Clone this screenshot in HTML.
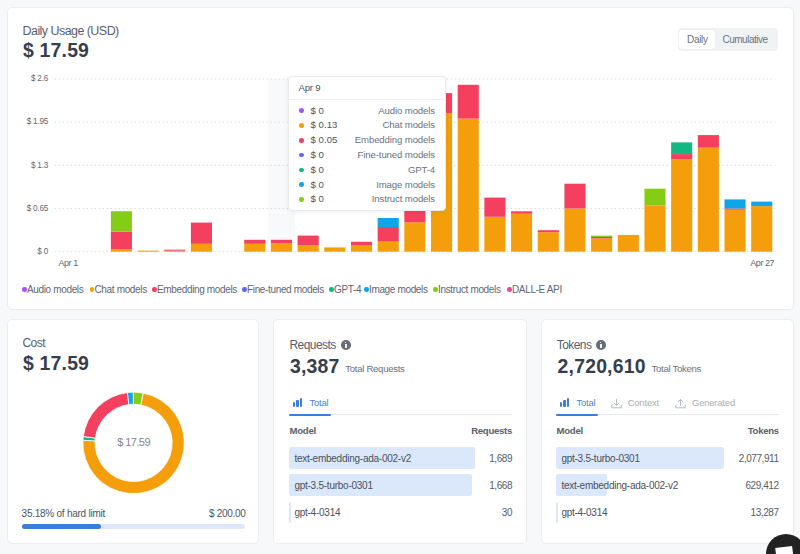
<!DOCTYPE html>
<html><head><meta charset="utf-8">
<style>
*{margin:0;padding:0;box-sizing:border-box}
html,body{width:800px;height:554px;overflow:hidden;background:#f7f8fa;font-family:"Liberation Sans",sans-serif;color:#374151}
.card{position:absolute;background:#fff;border:1px solid #eaecef;border-radius:5px}
.abs{position:absolute;white-space:nowrap}
.yl{position:absolute;right:752px;font-size:8.2px;line-height:12px;color:#5f6671;letter-spacing:-0.25px;white-space:nowrap}
.lg{position:absolute;top:284px;font-size:10px;line-height:12px;color:#5f6671;letter-spacing:-0.35px;white-space:nowrap}
.lg i{display:inline-block;width:4.5px;height:4.5px;border-radius:50%;vertical-align:1.5px;margin-right:0.5px}
.tt{position:absolute;left:288px;top:76px;width:157.5px;height:135px;background:#fff;border-radius:4px;box-shadow:0 1px 4px rgba(0,0,0,0.07);border:1px solid #e9ebee}
.tr{position:absolute;left:0;width:157px;height:14px;font-size:9.6px;line-height:14px;letter-spacing:-0.3px;white-space:nowrap}
.tr i{position:absolute;left:10.2px;top:4.9px;width:4.6px;height:4.6px;border-radius:50%}
.tr .v{position:absolute;left:21.5px;color:#4b5563;letter-spacing:0.05px}
.tr .n{position:absolute;right:11px;color:#6b7280;letter-spacing:-0.12px}
.title{font-size:12.5px;color:#5a606b;letter-spacing:-0.55px}
.big{font-size:19.4px;font-weight:bold;color:#363e4c;letter-spacing:0.2px}
.info{display:inline-block;width:9.6px;height:9.6px;border-radius:50%;background:#686e78;position:absolute}
.tab{position:absolute;font-size:9.4px;line-height:12px;letter-spacing:-0.15px;white-space:nowrap}
.th{position:absolute;font-size:9.6px;font-weight:bold;color:#5a616c;line-height:12px;letter-spacing:-0.3px}
.rb{position:absolute;background:#dbe8fb;border-radius:2px;height:22px}
.rt{position:absolute;font-size:10px;line-height:12px;color:#4a505a;letter-spacing:-0.25px;white-space:nowrap}
.rv{position:absolute;font-size:10px;line-height:12px;color:#565d68;letter-spacing:-0.45px;white-space:nowrap;text-align:right}
</style></head><body>

<!-- top card -->
<div class="card" style="left:7px;top:7px;width:786.5px;height:303.2px"></div>
<!-- bottom cards -->
<div class="card" style="left:7px;top:318.8px;width:251.6px;height:225.7px"></div>
<div class="card" style="left:273px;top:318.8px;width:253.5px;height:225.7px"></div>
<div class="card" style="left:540.5px;top:318.8px;width:253px;height:225.7px"></div>
<div class="abs title" style="left:22.5px;top:23.8px;line-height:15px">Daily Usage (USD)</div>
<div class="abs big" style="left:23px;top:38.5px;line-height:22px">$ 17.59</div>

<!-- toggle -->
<div class="abs" style="left:677.5px;top:27.5px;width:100px;height:23.5px;background:#f1f2f4;border-radius:4px"></div>
<div class="abs" style="left:678.8px;top:30px;width:36.2px;height:19px;background:#fff;border-radius:3px;box-shadow:0 0 1px rgba(0,0,0,0.12)"></div>
<div class="abs" style="left:687px;top:33.5px;font-size:10px;line-height:12px;color:#6b7280;letter-spacing:-0.3px">Daily</div>
<div class="abs" style="left:722.5px;top:33.5px;font-size:10px;line-height:12px;color:#6b7280;letter-spacing:-0.5px">Cumulative</div>

<!-- hover band -->
<div class="abs" style="left:268px;top:79px;width:26.7px;height:172.7px;background:#f8f9fb"></div>

<svg class="abs" style="left:0;top:0" width="800" height="554" viewBox="0 0 800 554">
<line x1="54.5" y1="251.70" x2="775.5" y2="251.70" stroke="#d9dce1" stroke-width="1" stroke-dasharray="1.6 2.4"/>
<line x1="54.5" y1="208.52" x2="775.5" y2="208.52" stroke="#d9dce1" stroke-width="1" stroke-dasharray="1.6 2.4"/>
<line x1="54.5" y1="165.35" x2="775.5" y2="165.35" stroke="#d9dce1" stroke-width="1" stroke-dasharray="1.6 2.4"/>
<line x1="54.5" y1="122.18" x2="775.5" y2="122.18" stroke="#d9dce1" stroke-width="1" stroke-dasharray="1.6 2.4"/>
<line x1="54.5" y1="79.00" x2="775.5" y2="79.00" stroke="#d9dce1" stroke-width="1" stroke-dasharray="1.6 2.4"/>
<rect x="110.85" y="249.30" width="21.10" height="2.40" fill="#f59e0b"/>
<rect x="110.85" y="231.80" width="21.10" height="17.50" fill="#f43f5e"/>
<rect x="110.85" y="211.20" width="21.10" height="20.60" fill="#84cc16"/>
<rect x="137.53" y="250.60" width="21.10" height="1.10" fill="#f59e0b"/>
<rect x="164.21" y="250.70" width="21.10" height="1.00" fill="#f59e0b"/>
<rect x="164.21" y="249.70" width="21.10" height="1.00" fill="#f43f5e"/>
<rect x="190.89" y="243.80" width="21.10" height="7.90" fill="#f59e0b"/>
<rect x="190.89" y="222.60" width="21.10" height="21.20" fill="#f43f5e"/>
<rect x="244.25" y="243.80" width="21.10" height="7.90" fill="#f59e0b"/>
<rect x="244.25" y="239.80" width="21.10" height="4.00" fill="#f43f5e"/>
<rect x="270.93" y="243.10" width="21.10" height="8.60" fill="#f59e0b"/>
<rect x="270.93" y="239.80" width="21.10" height="3.30" fill="#f43f5e"/>
<rect x="297.61" y="245.50" width="21.10" height="6.20" fill="#f59e0b"/>
<rect x="297.61" y="235.60" width="21.10" height="9.90" fill="#f43f5e"/>
<rect x="324.29" y="247.40" width="21.10" height="4.30" fill="#f59e0b"/>
<rect x="350.97" y="245.00" width="21.10" height="6.70" fill="#f59e0b"/>
<rect x="350.97" y="241.80" width="21.10" height="3.20" fill="#f43f5e"/>
<rect x="377.65" y="241.60" width="21.10" height="10.10" fill="#f59e0b"/>
<rect x="377.65" y="227.00" width="21.10" height="14.60" fill="#f43f5e"/>
<rect x="377.65" y="218.00" width="21.10" height="9.00" fill="#0ea5e9"/>
<rect x="404.33" y="222.30" width="21.10" height="29.40" fill="#f59e0b"/>
<rect x="404.33" y="211.00" width="21.10" height="11.30" fill="#f43f5e"/>
<rect x="431.01" y="113.10" width="21.10" height="138.60" fill="#f59e0b"/>
<rect x="431.01" y="93.10" width="21.10" height="20.00" fill="#f43f5e"/>
<rect x="457.69" y="118.60" width="21.10" height="133.10" fill="#f59e0b"/>
<rect x="457.69" y="84.80" width="21.10" height="33.80" fill="#f43f5e"/>
<rect x="484.37" y="216.80" width="21.10" height="34.90" fill="#f59e0b"/>
<rect x="484.37" y="197.60" width="21.10" height="19.20" fill="#f43f5e"/>
<rect x="511.05" y="213.70" width="21.10" height="38.00" fill="#f59e0b"/>
<rect x="511.05" y="211.30" width="21.10" height="2.40" fill="#f43f5e"/>
<rect x="537.73" y="232.20" width="21.10" height="19.50" fill="#f59e0b"/>
<rect x="537.73" y="230.20" width="21.10" height="2.00" fill="#f43f5e"/>
<rect x="564.41" y="208.50" width="21.10" height="43.20" fill="#f59e0b"/>
<rect x="564.41" y="183.70" width="21.10" height="24.80" fill="#f43f5e"/>
<rect x="591.09" y="238.50" width="21.10" height="13.20" fill="#f59e0b"/>
<rect x="591.09" y="237.00" width="21.10" height="1.50" fill="#f43f5e"/>
<rect x="591.09" y="235.60" width="21.10" height="1.40" fill="#84cc16"/>
<rect x="617.77" y="234.90" width="21.10" height="16.80" fill="#f59e0b"/>
<rect x="644.45" y="205.30" width="21.10" height="46.40" fill="#f59e0b"/>
<rect x="644.45" y="188.70" width="21.10" height="16.60" fill="#84cc16"/>
<rect x="671.13" y="159.10" width="21.10" height="92.60" fill="#f59e0b"/>
<rect x="671.13" y="154.10" width="21.10" height="5.00" fill="#f43f5e"/>
<rect x="671.13" y="142.40" width="21.10" height="11.70" fill="#10b981"/>
<rect x="697.81" y="147.70" width="21.10" height="104.00" fill="#f59e0b"/>
<rect x="697.81" y="135.10" width="21.10" height="12.60" fill="#f43f5e"/>
<rect x="724.49" y="209.70" width="21.10" height="42.00" fill="#f59e0b"/>
<rect x="724.49" y="208.40" width="21.10" height="1.30" fill="#f43f5e"/>
<rect x="724.49" y="199.40" width="21.10" height="9.00" fill="#0ea5e9"/>
<rect x="751.17" y="206.10" width="21.10" height="45.60" fill="#f59e0b"/>
<rect x="751.17" y="201.60" width="21.10" height="4.50" fill="#0ea5e9"/>
<path d="M143.10 393.10 A50.7 50.7 0 1 1 82.97 440.25 L95.05 440.88 A38.6 38.6 0 1 0 140.83 404.98Z" fill="#f59e0b" stroke="#fff" stroke-width="0.8"/>
<path d="M82.97 440.25 A50.7 50.7 0 0 1 83.30 436.55 L95.30 438.06 A38.6 38.6 0 0 0 95.05 440.88Z" fill="#10b981" stroke="#fff" stroke-width="0.8"/>
<path d="M83.30 436.55 A50.7 50.7 0 0 1 127.42 392.58 L128.90 404.59 A38.6 38.6 0 0 0 95.30 438.06Z" fill="#f43f5e" stroke="#fff" stroke-width="0.8"/>
<path d="M127.42 392.58 A50.7 50.7 0 0 1 133.25 392.20 L133.33 404.30 A38.6 38.6 0 0 0 128.90 404.59Z" fill="#0ea5e9" stroke="#fff" stroke-width="0.8"/>
<path d="M133.51 392.20 A50.7 50.7 0 0 1 143.10 393.10 L140.83 404.98 A38.6 38.6 0 0 0 133.53 404.30Z" fill="#84cc16" stroke="#fff" stroke-width="0.8"/>
</svg>
<div class="yl" style="top:245.90px">$ 0</div>
<div class="yl" style="top:202.72px">$ 0.65</div>
<div class="yl" style="top:159.55px">$ 1.3</div>
<div class="yl" style="top:116.38px">$ 1.95</div>
<div class="yl" style="top:73.20px">$ 2.6</div>
<div class="abs" style="left:58.5px;top:257.3px;font-size:9px;line-height:12px;color:#5f6671;letter-spacing:-0.45px">Apr 1</div>
<div class="abs" style="left:750.3px;top:257.3px;font-size:9px;line-height:12px;color:#5f6671;letter-spacing:-0.45px">Apr 27</div>

<!-- legend -->
<div class="lg" style="left:22px"><i style="background:#a855f7"></i>Audio models</div>
<div class="lg" style="left:89.5px"><i style="background:#f59e0b"></i>Chat models</div>
<div class="lg" style="left:152px"><i style="background:#f43f5e"></i>Embedding models</div>
<div class="lg" style="left:242px"><i style="background:#6366f1"></i>Fine-tuned models</div>
<div class="lg" style="left:329px"><i style="background:#10b981"></i>GPT-4</div>
<div class="lg" style="left:364px"><i style="background:#0ea5e9"></i>Image models</div>
<div class="lg" style="left:433px"><i style="background:#84cc16"></i>Instruct models</div>
<div class="lg" style="left:507px"><i style="background:#ec4899"></i>DALL-E API</div>

<!-- tooltip -->
<div class="tt">
  <div class="abs" style="left:9.5px;top:3.5px;font-size:9.6px;line-height:14px;color:#4b5563;letter-spacing:-0.2px">Apr 9</div>
  <div class="abs" style="left:0;top:22px;width:155.5px;height:1px;background:#eceef1"></div>
  <div class="tr" style="top:26.5px"><i style="background:#a855f7"></i><span class="v">$ 0</span><span class="n">Audio models</span></div>
  <div class="tr" style="top:41.3px"><i style="background:#f59e0b"></i><span class="v">$ 0.13</span><span class="n">Chat models</span></div>
  <div class="tr" style="top:56.1px"><i style="background:#f43f5e"></i><span class="v">$ 0.05</span><span class="n">Embedding models</span></div>
  <div class="tr" style="top:70.9px"><i style="background:#6366f1"></i><span class="v">$ 0</span><span class="n">Fine-tuned models</span></div>
  <div class="tr" style="top:85.7px"><i style="background:#10b981"></i><span class="v">$ 0</span><span class="n">GPT-4</span></div>
  <div class="tr" style="top:100.5px"><i style="background:#0ea5e9"></i><span class="v">$ 0</span><span class="n">Image models</span></div>
  <div class="tr" style="top:115.3px"><i style="background:#84cc16"></i><span class="v">$ 0</span><span class="n">Instruct models</span></div>
</div>


<!-- cost card -->
<div class="abs title" style="left:22.5px;top:336px;line-height:14px;font-size:12px">Cost</div>
<div class="abs big" style="left:23px;top:352px;line-height:22px">$ 17.59</div>
<div class="abs" style="left:103.6px;top:436px;width:60px;text-align:center;font-size:11px;line-height:13px;color:#80868f;letter-spacing:-0.55px">$ 17.59</div>
<div class="abs" style="left:21.6px;top:507.5px;font-size:10px;line-height:12px;color:#4b5563;letter-spacing:-0.25px">35.18% of hard limit</div>
<div class="abs" style="left:185px;width:60.6px;text-align:right;top:507.5px;font-size:10px;line-height:12px;color:#4b5563;letter-spacing:-0.3px">$ 200.00</div>
<div class="abs" style="left:21.6px;top:524px;width:223.7px;height:5px;border-radius:3px;background:#dde9fa"></div>
<div class="abs" style="left:21.6px;top:524px;width:79px;height:5px;border-radius:3px;background:#3b7ddd"></div>

<!-- requests card -->
<div class="abs title" style="left:289.5px;top:338px;line-height:14px;font-size:12px">Requests</div>
<div class="info" style="left:341.2px;top:340.2px"><span style="position:absolute;left:4.3px;top:2.2px;width:1px;height:1px;background:#e8e9eb"></span><span style="position:absolute;left:4.3px;top:4.1px;width:1.1px;height:3.6px;background:#eef0f2"></span></div>
<div class="abs big" style="left:290px;top:354.5px;line-height:22px">3,387</div>
<div class="abs" style="left:345.3px;top:363.3px;font-size:9.6px;line-height:12px;color:#6b7280;letter-spacing:-0.3px">Total Requests</div>

<div class="abs" style="left:293px;top:398px;width:9px;height:9px">
 <span style="position:absolute;left:0;bottom:0;width:2.2px;height:5px;background:#3b7ddd;border-radius:1px"></span>
 <span style="position:absolute;left:3.4px;bottom:0;width:2.2px;height:7.5px;background:#3b7ddd;border-radius:1px"></span>
 <span style="position:absolute;left:6.8px;bottom:0;width:2.2px;height:9px;background:#3b7ddd;border-radius:1px"></span>
</div>
<div class="tab" style="left:309.5px;top:396.5px;color:#4a7fdc">Total</div>
<div class="abs" style="left:289px;top:414px;width:223px;height:1px;background:#e5e7eb"></div>
<div class="abs" style="left:289px;top:413.6px;width:41.8px;height:2px;background:#3b7ddd;border-radius:1px"></div>
<div class="th" style="left:289.6px;top:425px">Model</div>
<div class="th" style="left:452px;width:60px;text-align:right;top:425px">Requests</div>

<div class="rb" style="left:289px;top:446.6px;width:185.6px"></div>
<div class="rb" style="left:289px;top:474px;width:183.2px"></div>
<div class="rb" style="left:289px;top:501.6px;width:2px;height:21px"></div>
<div class="rt" style="left:294.4px;top:452.5px">text-embedding-ada-002-v2</div>
<div class="rt" style="left:294.4px;top:480px">gpt-3.5-turbo-0301</div>
<div class="rt" style="left:294.4px;top:507px">gpt-4-0314</div>
<div class="rv" style="left:452px;width:60px;top:452.5px">1,689</div>
<div class="rv" style="left:452px;width:60px;top:480px">1,668</div>
<div class="rv" style="left:452px;width:60px;top:507px">30</div>

<!-- tokens card -->
<div class="abs title" style="left:556.7px;top:338px;line-height:14px;font-size:12px">Tokens</div>
<div class="info" style="left:596.2px;top:340.1px"><span style="position:absolute;left:4.3px;top:2.2px;width:1px;height:1px;background:#e8e9eb"></span><span style="position:absolute;left:4.3px;top:4.1px;width:1.1px;height:3.6px;background:#eef0f2"></span></div>
<div class="abs big" style="left:557.6px;top:354.5px;line-height:22px">2,720,610</div>
<div class="abs" style="left:651.5px;top:363.3px;font-size:9.6px;line-height:12px;color:#6b7280;letter-spacing:-0.3px">Total Tokens</div>

<div class="abs" style="left:560px;top:398px;width:9px;height:9px">
 <span style="position:absolute;left:0;bottom:0;width:2.2px;height:5px;background:#3b7ddd;border-radius:1px"></span>
 <span style="position:absolute;left:3.4px;bottom:0;width:2.2px;height:7.5px;background:#3b7ddd;border-radius:1px"></span>
 <span style="position:absolute;left:6.8px;bottom:0;width:2.2px;height:9px;background:#3b7ddd;border-radius:1px"></span>
</div>
<div class="tab" style="left:576.4px;top:396.5px;color:#4a7fdc">Total</div>
<svg class="abs" style="left:610.5px;top:397.5px" width="11" height="11" viewBox="0 0 11 11"><path d="M5.5 0.8V7.3M2.8 4.8L5.5 7.5L8.2 4.8M0.8 6.5V9.8H10.2V6.5" fill="none" stroke="#b5b9c0" stroke-width="1"/></svg>
<div class="tab" style="left:627.7px;top:396.5px;color:#a9adb4">Context</div>
<svg class="abs" style="left:675px;top:397.5px" width="11" height="11" viewBox="0 0 11 11"><path d="M5.5 8V1.5M2.8 4.2L5.5 1.5L8.2 4.2M0.8 6.5V9.8H10.2V6.5" fill="none" stroke="#b5b9c0" stroke-width="1"/></svg>
<div class="tab" style="left:692px;top:396.5px;color:#a9adb4">Generated</div>
<div class="abs" style="left:556px;top:414px;width:222.5px;height:1px;background:#e5e7eb"></div>
<div class="abs" style="left:556px;top:413.6px;width:42px;height:2px;background:#3b7ddd;border-radius:1px"></div>
<div class="th" style="left:556.6px;top:425px">Model</div>
<div class="th" style="left:718.8px;width:60px;text-align:right;top:425px">Tokens</div>

<div class="rb" style="left:556px;top:446.6px;width:168px"></div>
<div class="rb" style="left:556px;top:474px;width:51px"></div>
<div class="rb" style="left:556px;top:501.6px;width:2px;height:21px"></div>
<div class="rt" style="left:561.4px;top:452.5px">gpt-3.5-turbo-0301</div>
<div class="rt" style="left:561.4px;top:480px">text-embedding-ada-002-v2</div>
<div class="rt" style="left:561.4px;top:507px">gpt-4-0314</div>
<div class="rv" style="left:698.5px;width:80px;top:452.5px">2,077,911</div>
<div class="rv" style="left:698.5px;width:80px;top:480px">629,412</div>
<div class="rv" style="left:698.5px;width:80px;top:507px">13,287</div>

<!-- chat button -->
<div class="abs" style="left:766px;top:534px;width:40px;height:40px;border-radius:50%;background:#222"></div>
<div class="abs" style="left:776px;top:546.5px;width:16.5px;height:14px;background:#fff;transform:rotate(-7deg)"></div>
</body></html>
